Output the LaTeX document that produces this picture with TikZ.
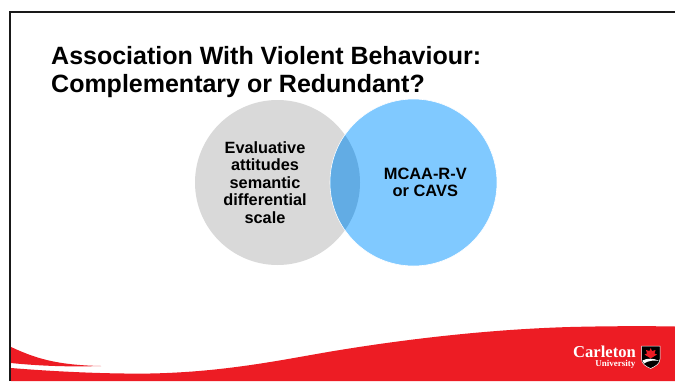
\documentclass[tikz,border=0pt]{standalone}
\usepackage{fontspec}
\setmainfont{Liberation Sans}
\newfontfamily\logofont{Liberation Serif}
\definecolor{cured}{HTML}{ED1C24}
\definecolor{cugray}{HTML}{D9D9D9}
\definecolor{cublue}{HTML}{80C9FF}
\definecolor{cuover}{HTML}{62ACE4}
\tikzset{
  venntext/.style={font=\fontsize{16.3}{17.4}\selectfont\bfseries, align=center, text=black, inner sep=0pt},
  vennsmall/.style={font=\fontsize{16.4}{16.7}\selectfont\bfseries, align=center, text=black, inner sep=0pt},
  titletext/.style={font=\fontsize{25}{27.4}\selectfont\bfseries, align=left, anchor=north west, inner sep=0pt, text=black},
  logotext/.style={text=white, inner sep=0pt, font=\logofont\bfseries}
}
\begin{document}
\begin{tikzpicture}[x=1pt,y=-1pt]
\useasboundingbox (0,0) rectangle (675,381);
\fill[white] (0,0) rectangle (675,381);
% frame
\draw[line width=2pt,black!90] (10,381) -- (10,12) -- (675,12);
% swoosh
\fill[cured] (11,368) .. controls (60,372) and (110,374) .. (150,373.5)
  .. controls (230,372) and (290,358) .. (340,350)
  .. controls (420,337) and (500,329) .. (570,327)
  .. controls (610,326) and (650,326) .. (675,326.5)
  -- (675,381) -- (11,381) -- cycle;
\fill[cured] (11,347) .. controls (35,358) and (55,365) .. (101,366)
  .. controls (70,367) and (40,366) .. (11,363) -- cycle;
% venn
\fill[cugray] (277.5,182.5) circle[radius=82.5];
\draw[white,line width=0.6pt,fill=cublue] (413.5,182.5) circle[radius=83.5];
\begin{scope}
  \clip (277.5,182.5) circle[radius=82.5];
  \fill[cuover] (413.5,182.5) circle[radius=83];
\end{scope}
% text
\node[titletext] (title) at (51,46.5) {Association With Violent Behaviour:\\Complementary or Redundant?};
\node[venntext] (left) at (265,182.5) {Evaluative\\attitudes\\semantic\\differential\\scale};
\node[vennsmall] (right) at (425.3,182) {MCAA-R-V\\or CAVS};
% logo
\node[logotext,anchor=east,font=\logofont\bfseries\fontsize{16.6}{16.6}\selectfont] (carleton) at (636,351.5) {Carleton};
\node[logotext,anchor=east,font=\logofont\bfseries\fontsize{9}{9}\selectfont] (univ) at (635.5,364.5) {University};
\fill[black,draw=white,line width=0.5pt] (641.5,346) -- (660,346) -- (660,359)
  .. controls (660,364) and (655,366.5) .. (650.7,368.5)
  .. controls (646,366.5) and (641.5,364) .. (641.5,359) -- cycle;
\fill[cured] (650.7,348) -- (652,351) -- (655.5,350) -- (654.5,353.5) -- (657,354.5) -- (651.3,358) -- (650.1,358) -- (644.5,354.5) -- (647,353.5) -- (646,350) -- (649.5,351) -- cycle;
\fill[white] (642.5,360.5) .. controls (647,358) and (654,358) .. (659,361)
  .. controls (655,360) and (648,360.5) .. (644,363.5) -- cycle;
\end{tikzpicture}
\end{document}
